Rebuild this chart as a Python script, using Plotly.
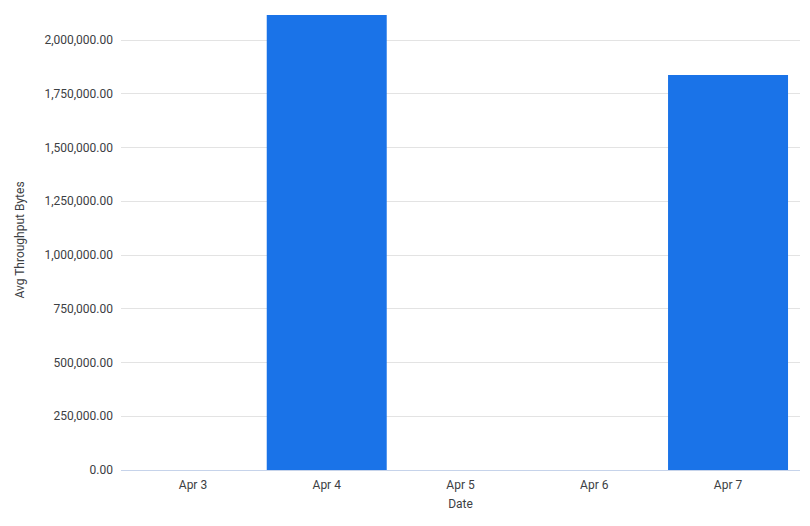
import plotly.graph_objects as go

dates = ["Apr 3", "Apr 4", "Apr 5", "Apr 6", "Apr 7"]
avg_throughput_bytes = [0, 2116000, 0, 0, 1837000]
y_tick_values = [0, 250000, 500000, 750000, 1000000, 1250000, 1500000, 1750000, 2000000]

fig = go.Figure(
    go.Bar(
        x=dates,
        y=avg_throughput_bytes,
        marker=dict(color="#1a73e8", line=dict(width=0)),
        width=0.897,
    )
)

fig.update_layout(
    width=810,
    height=526,
    margin=dict(l=113, r=18, t=2, b=64),
    paper_bgcolor="white",
    plot_bgcolor="white",
    font=dict(family="Roboto, Arial, sans-serif", size=12, color="#3c4043"),
    showlegend=False,
    xaxis=dict(
        type="category",
        range=[-0.538, 4.538],
        showgrid=False,
        showline=False,
        zeroline=False,
        ticks="",
        ticklabelstandoff=6,
        tickfont=dict(size=12, color="#3c4043"),
        title=dict(text="Date", font=dict(size=12, color="#3c4043"), standoff=8),
    ),
    yaxis=dict(
        range=[0, 2139535],
        tickvals=y_tick_values,
        tickformat=",.2f",
        showgrid=True,
        gridcolor="#e3e3e3",
        gridwidth=1,
        zeroline=True,
        zerolinecolor="#c6d3ea",
        zerolinewidth=1,
        showline=False,
        ticks="",
        ticklabelstandoff=7,
        tickfont=dict(size=12, color="#3c4043"),
        title=dict(text="Avg Throughput Bytes", font=dict(size=12, color="#3c4043"), standoff=17),
    ),
)

fig.write_html("out.html")
